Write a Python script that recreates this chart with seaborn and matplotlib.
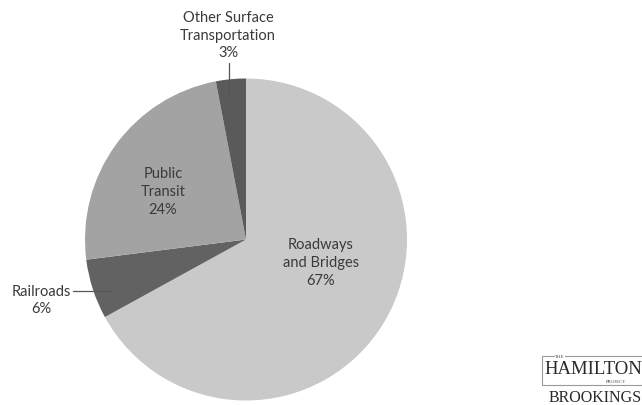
import matplotlib
matplotlib.use("Agg")
import matplotlib.pyplot as plt
import seaborn as sns
from matplotlib.patches import Rectangle

sns.set_theme(style="white")
plt.rcParams['font.family'] = ['Lato', 'DejaVu Sans']

# Data
categories = ["Roadways\nand Bridges", "Railroads", "Public\nTransit", "Other Surface\nTransportation"]
shares = [67, 6, 24, 3]
colors = ["#c9c9c9", "#626262", "#a3a3a3", "#5a5a5a"]

W, H = 642, 405
fig = plt.figure(figsize=(W / 100, H / 100), dpi=100)
fig.patch.set_facecolor("white")

# pie axes: center (246, 239.5) px, radius 161 px
cx, cy, r = 246, 239.5, 161
ax = fig.add_axes([(cx - r) / W, (H - cy - r) / H, 2 * r / W, 2 * r / H])
ax.pie(shares, colors=colors, startangle=90, counterclock=False,
       wedgeprops=dict(linewidth=0))
ax.set_xlim(-1, 1)
ax.set_ylim(-1, 1)
ax.set_aspect("equal")
ax.axis("off")


def d(px, py):
    return ((px - cx) / r, (cy - py) / r)


txtc = "#3a3a3a"
fs = 10.5
ls = 1.35
labels_pos = [(321, 263), (41, 300.5), (163, 192), (228, 35.5)]
for cat, val, (px, py) in zip(categories, shares, labels_pos):
    x, y = d(px, py)
    ax.text(x, y, f"{cat}\n{val}%", ha="center", va="center", fontsize=fs,
            color=txtc, linespacing=ls, clip_on=False)

# leader lines
x0, y0 = d(229, 63)
x1, y1 = d(229, 95)
ax.plot([x0, x1], [y0, y1], color="#555555", lw=0.9, clip_on=False)
x0, y0 = d(73, 291)
x1, y1 = d(110, 291)
ax.plot([x0, x1], [y0, y1], color="#555555", lw=0.9, clip_on=False)

# logo
def f(px, py):
    return (px / W, 1 - py / H)

rect = Rectangle(f(542, 385), (110) / W, (29) / H, transform=fig.transFigure,
                 fill=False, edgecolor="#9a9a9a", lw=0.8)
fig.patches.append(rect)
fig.text(*f(560, 356.5), "THE", fontsize=3.5, family="Liberation Serif",
         color="#444444", ha="center", va="center",
         bbox=dict(facecolor="white", edgecolor="none", pad=0.5))
fig.text(*f(544, 370), "HAMILTON", fontsize=13.5, family="Liberation Serif",
         color="#2a2a2a", ha="left", va="center")
fig.text(*f(616, 382), "PROJECT", fontsize=3.5, family="Liberation Serif",
         color="#444444", ha="center", va="center")
fig.text(*f(549, 398.5), "BROOKINGS", fontsize=11.5, family="Liberation Serif",
         color="#2a2a2a", ha="left", va="center")

fig.savefig("out.png", dpi=100, facecolor="white")
